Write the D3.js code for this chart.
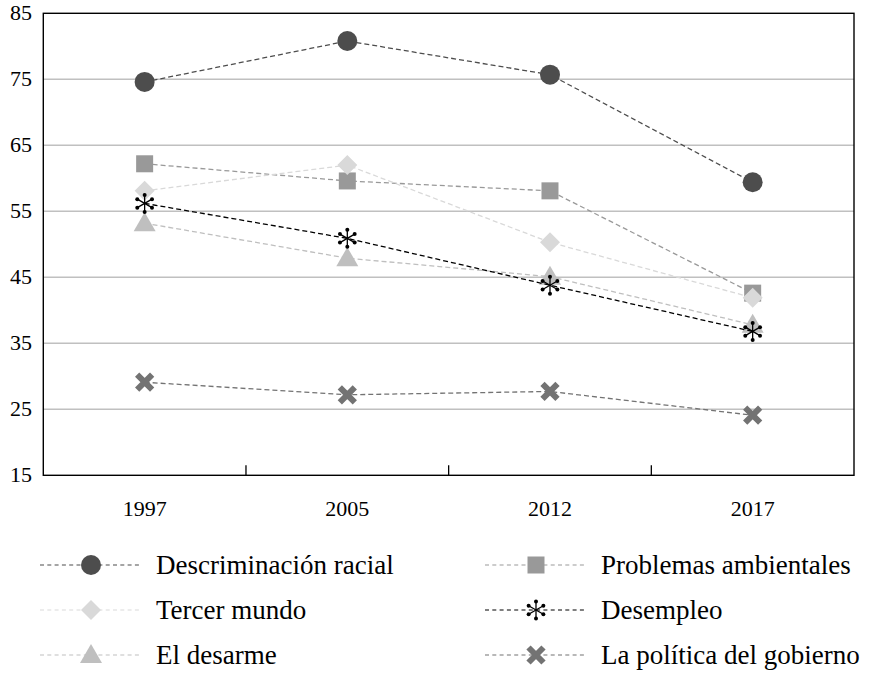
<!DOCTYPE html>
<html>
<head>
<meta charset="utf-8">
<script src="https://cdn.jsdelivr.net/npm/d3@7"></script>
<style>
html,body{margin:0;padding:0;background:#fff;}
svg{display:block;}
text{font-family:"Liberation Serif","DejaVu Serif",serif;fill:#000;}
</style>
</head>
<body>
<svg id="chart" width="871" height="673"></svg>
<script>
const years = ["1997", "2005", "2012", "2017"];
const yTicks = [15, 25, 35, 45, 55, 65, 75, 85];
const seriesNames = ["Descriminación racial", "Problemas ambientales", "Tercer mundo", "El desarme", "Desempleo", "La política del gobierno"];
const descriminacion = [74.6, 80.8, 75.7, 59.4];
const problemas = [62.2, 59.6, 58.1, 42.6];
const tercerMundo = [58.1, 62.0, 50.3, 41.9];
const desarme = [53.2, 47.9, 45.1, 37.8];
const desempleo = [56.2, 50.9, 43.8, 36.8];
const politica = [29.1, 27.2, 27.7, 24.1];

const seriesValues = [descriminacion, problemas, tercerMundo, desarme, desempleo, politica];
const colors = ["#4d4d4d", "#999999", "#d9d9d9", "#bfbfbf", "#000000", "#737373"];
const markers = ["circle", "square", "diamond", "triangle", "asterisk", "x"];

const svg = d3.select("#chart");
const L = 43.3, R = 854, T = 13.3, B = 475.3;
const x = d3.scaleBand().domain(years).range([L, R]);
const y = d3.scaleLinear().domain([15, 85]).range([B, T]);
const cx = d => x(d) + x.bandwidth() / 2;

// gridlines
svg.append("g").selectAll("line").data(yTicks.filter(t => t > 15 && t < 85)).join("line")
  .attr("x1", L).attr("x2", R).attr("y1", d => y(d)).attr("y2", d => y(d))
  .attr("stroke", "#c0c0c0").attr("stroke-width", 1.6);

// y labels
svg.append("g").selectAll("text").data(yTicks).join("text")
  .attr("x", 32).attr("y", d => y(d) + 7)
  .attr("text-anchor", "end").attr("font-size", 22).text(d => d);

// x tick marks at band boundaries (inward)
svg.append("g").selectAll("line").data(years.slice(1)).join("line")
  .attr("x1", d => x(d)).attr("x2", d => x(d)).attr("y1", B).attr("y2", B - 10)
  .attr("stroke", "#000").attr("stroke-width", 1.3);

// x labels
svg.append("g").selectAll("text").data(years).join("text")
  .attr("x", d => cx(d)).attr("y", 516)
  .attr("text-anchor", "middle").attr("font-size", 22).text(d => d);

// border
svg.append("rect").attr("x", L).attr("y", T).attr("width", R - L).attr("height", B - T)
  .attr("fill", "none").attr("stroke", "#000").attr("stroke-width", 1.4);

function drawMarker(g, type, color) {
  if (type === "circle") {
    g.append("circle").attr("r", 10).attr("fill", color);
  } else if (type === "square") {
    g.append("rect").attr("x", -8.5).attr("y", -8.5).attr("width", 17).attr("height", 17).attr("fill", color);
  } else if (type === "diamond") {
    g.append("path").attr("d", "M0,-10L10,0L0,10L-10,0Z").attr("fill", color);
  } else if (type === "triangle") {
    g.append("path").attr("d", "M0,-11L11,8L-11,8Z").attr("fill", color);
  } else if (type === "asterisk") {
    const r = 8.5;
    for (let i = 0; i < 6; i++) {
      const a = Math.PI / 2 + i * Math.PI / 3;
      const ex = r * Math.cos(a), ey = -r * Math.sin(a);
      g.append("line").attr("x1", 0).attr("y1", 0).attr("x2", ex).attr("y2", ey)
        .attr("stroke", color).attr("stroke-width", 1.3);
      g.append("circle").attr("cx", ex).attr("cy", ey).attr("r", 2).attr("fill", color);
    }
  } else if (type === "x") {
    const s = 7.5;
    g.append("path").attr("d", `M${-s},${-s}L${s},${s}M${-s},${s}L${s},${-s}`)
      .attr("stroke", color).attr("stroke-width", 6).attr("fill", "none");
  }
}

const line = d3.line().x((d, i) => cx(years[i])).y(d => y(d));

seriesValues.forEach((vals, si) => {
  const g = svg.append("g");
  g.append("path").attr("d", line(vals)).attr("fill", "none")
    .attr("stroke", colors[si]).attr("stroke-width", 1.3).attr("stroke-dasharray", "5,3");
  vals.forEach((v, i) => {
    const mg = g.append("g").attr("transform", `translate(${cx(years[i])},${y(v)})`);
    drawMarker(mg, markers[si], colors[si]);
  });
});

// legend
const legendOrder = [0, 2, 3, 1, 4, 5];
const colX = [40, 485];
const rowY = [565, 610, 655];
legendOrder.forEach((si, k) => {
  const col = Math.floor(k / 3), row = k % 3;
  const g = svg.append("g").attr("transform", `translate(${colX[col]},${rowY[row]})`);
  g.append("line").attr("x1", 0).attr("x2", 101).attr("y1", 0).attr("y2", 0)
    .attr("stroke", colors[si]).attr("stroke-width", 1.2).attr("stroke-dasharray", "4,3.3");
  const mg = g.append("g").attr("transform", "translate(51,0)");
  drawMarker(mg, markers[si], colors[si]);
  g.append("text").attr("x", 116).attr("y", 9).attr("font-size", 27).text(seriesNames[si]);
});
</script>
</body>
</html>
